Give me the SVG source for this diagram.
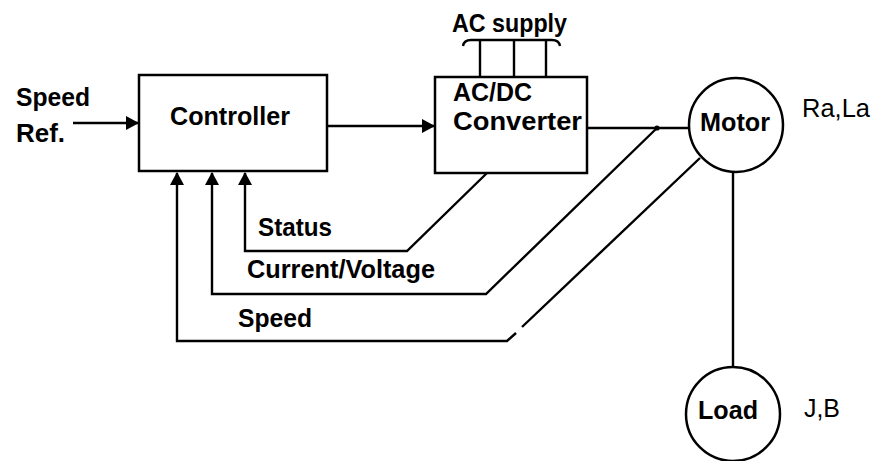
<svg xmlns="http://www.w3.org/2000/svg" width="873" height="461" viewBox="0 0 873 461">
<style>
  .box{fill:#fff;stroke:#000;stroke-width:2.5}
  .ln{fill:none;stroke:#000;stroke-width:2.4;stroke-linejoin:miter}
  .t{font-family:"Liberation Sans",Arial,sans-serif;font-size:26px;fill:#000}
  .b{font-weight:bold}
</style>
<defs>
  <marker id="arr" markerUnits="userSpaceOnUse" markerWidth="14" markerHeight="14" refX="12" refY="7" orient="auto">
    <path d="M0,0 L13,7 L0,14 Z" fill="#000"/>
  </marker>
</defs>
<rect width="873" height="461" fill="#fff"/>

<g id="connectors">
  <line class="ln" x1="73" y1="123" x2="138" y2="123" marker-end="url(#arr)"/>
  <line class="ln" x1="327" y1="126" x2="434" y2="126" marker-end="url(#arr)"/>
  <line class="ln" x1="587" y1="128" x2="689" y2="128"/>
  <circle cx="657" cy="128" r="2.6" fill="#000"/>
  <line class="ln" x1="480" y1="40" x2="480" y2="77"/>
  <line class="ln" x1="514" y1="40" x2="514" y2="77"/>
  <line class="ln" x1="546" y1="40" x2="546" y2="77"/>
  <path class="ln" d="M463,46 Q464,40 471,40 L552,40 Q559,40 560,46"/>
  <line class="ln" x1="733" y1="172" x2="733" y2="367"/>
  <polyline class="ln" points="487,173 407,251 245,251 245,173" marker-end="url(#arr)"/>
  <polyline class="ln" points="657,128 486,294 212,294 212,173" marker-end="url(#arr)"/>
  <polyline class="ln" points="700,158 522,327"/>
  <polyline class="ln" points="516,333 507,341 177,341 177,173" marker-end="url(#arr)"/>
</g>

<g id="speed-ref">
  <text class="t b" x="16" y="106" textLength="74" lengthAdjust="spacingAndGlyphs">Speed</text>
  <text class="t b" x="16" y="142" textLength="49" lengthAdjust="spacingAndGlyphs">Ref.</text>
</g>

<g id="controller">
  <rect class="box" x="139" y="75" width="188" height="96"/>
  <text class="t b" x="170" y="125" font-size="27" textLength="120" lengthAdjust="spacingAndGlyphs">Controller</text>
</g>

<g id="converter">
  <rect class="box" x="435" y="77" width="152" height="96"/>
  <text class="t b" x="453" y="101" textLength="79" lengthAdjust="spacingAndGlyphs">AC/DC</text>
  <text class="t b" x="453" y="130" textLength="129" lengthAdjust="spacingAndGlyphs">Converter</text>
</g>

<g id="ac-supply">
  <text class="t b" x="452" y="32" textLength="115" lengthAdjust="spacingAndGlyphs">AC supply</text>
</g>

<g id="motor">
  <circle class="box" cx="736" cy="125" r="47"/>
  <text class="t b" x="700" y="131" textLength="70" lengthAdjust="spacingAndGlyphs">Motor</text>
  <text class="t" x="802" y="117" textLength="68" lengthAdjust="spacingAndGlyphs">Ra,La</text>
</g>

<g id="load">
  <circle class="box" cx="733" cy="414" r="47"/>
  <text class="t b" x="698" y="419" textLength="60" lengthAdjust="spacingAndGlyphs">Load</text>
  <text class="t" x="804" y="417" textLength="36" lengthAdjust="spacingAndGlyphs">J,B</text>
</g>

<g id="labels">
  <text class="t b" x="258" y="236" textLength="74" lengthAdjust="spacingAndGlyphs">Status</text>
  <text class="t b" x="247" y="278" textLength="188" lengthAdjust="spacingAndGlyphs">Current/Voltage</text>
  <text class="t b" x="238" y="327" textLength="74" lengthAdjust="spacingAndGlyphs">Speed</text>
</g>
</svg>
